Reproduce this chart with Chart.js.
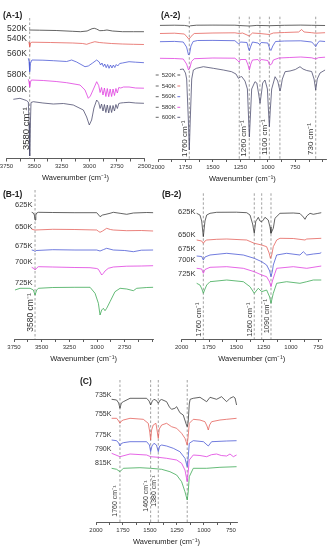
<!DOCTYPE html>
<html>
<head>
<meta charset="utf-8">
<script src="https://cdn.jsdelivr.net/npm/chart.js@4.4.1/dist/chart.umd.min.js"></script>
<style>
  html, body { margin: 0; padding: 0; background: #fff; }
  #wrap { position: relative; width: 331px; height: 550px; overflow: hidden; }
  #wrap canvas { position: absolute; left: 0; top: 0; }
</style>
</head>
<body>
<div id="wrap">
  <canvas id="a1" width="331" height="550"></canvas>
  <canvas id="a2" width="331" height="550"></canvas>
  <canvas id="b1" width="331" height="550"></canvas>
  <canvas id="b2" width="331" height="550"></canvas>
  <canvas id="c" width="331" height="550"></canvas>
</div>
<script>
// each spectrum: [wavenumber (cm-1), offset intensity (a.u.)]
const tempsA = ["520K", "540K", "560K", "580K", "600K"];
const tempsB = ["625K", "650K", "675K", "700K", "725K"];
const tempsC = ["735K", "755K", "775K", "790K", "815K"];

const rangeA1 = [2500, 3750];
const rangeA2 = [464, 2000];
const rangeB1 = [2492, 3750];
const rangeB2 = [719, 2000];
const rangeC = [694, 2000];

const ticksA1 = [3750, 3500, 3250, 3000, 2750, 2500];
const ticksA2 = [2000, 1750, 1500, 1250, 1000, 750];
const ticksB1 = [3750, 3500, 3250, 3000, 2750];
const ticksB2 = [2000, 1750, 1500, 1250, 1000, 750];
const ticksC = [2000, 1750, 1500, 1250, 1000, 750];

const peaksA1 = [3540];
const peakNamesA1 = ["3580 cm⁻¹"];
const peaksA2 = [1715, 1260, 1169, 1072, 986, 890, 564];
const peakNamesA2 = ["1760 cm⁻¹", "", "1260 cm⁻¹", "", "1100 cm⁻¹", "", "730 cm⁻¹"];
const peaksB1 = [3560];
const peakNamesB1 = ["3580 cm⁻¹"];
const peaksB2 = [1802, 1336, 1268, 1183];
const peakNamesB2 = ["1760 cm⁻¹", "1260 cm⁻¹", "", "1090 cm⁻¹"];
const peaksC = [1778, 1494, 1423, 1155];
const peakNamesC = ["1760 cm⁻¹", "1460 cm⁻¹", "1380 cm⁻¹", ""];

// (A-1)
const a1_520K = [[3545,128.5],[3450,128.3],[3300,128],[3150,127.2],[3080,126.8],[3020,127.5],[2975,129.8],[2955,130.2],[2935,129.5],[2905,127.8],[2870,128],[2840,128.5],[2790,127.5],[2700,126.8],[2600,126.8],[2505,126.8]];
const a1_540K = [[3555,116.8],[3546,115.8],[3540,111.8],[3533,115.5],[3520,116.3],[3350,116],[3150,115.5],[3060,115],[3024,114.2],[2990,115.5],[2950,116.8],[2910,116],[2870,115.6],[2800,115],[2700,114.5],[2600,114.2],[2505,114]];
const a1_560K = [[3552,100.2],[3546,97],[3540,86.8],[3534,95],[3520,98.5],[3420,98.3],[3326,97.8],[3205,97],[3160,98.5],[3115,96.5],[3039,91.8],[3009,92.5],[2970,95.5],[2933,98.5],[2910,96.5],[2898,93.5],[2885,95.5],[2872,92],[2860,94.5],[2847,90.8],[2834,94],[2821,90.2],[2808,93.5],[2795,90.5],[2782,93.5],[2769,91],[2756,94],[2743,92.5],[2725,95],[2700,95.5],[2640,96.8],[2580,96.3],[2505,95.8]];
const a1_580K = [[3552,79.2],[3546,76.5],[3540,71.8],[3534,76],[3525,78.5],[3417,78],[3300,77],[3205,75.8],[3084,73.5],[3039,68.5],[3009,60.2],[2990,62.5],[2958,70.5],[2933,76.8],[2915,73],[2902,66],[2889,71],[2876,63.5],[2863,70.5],[2850,62],[2837,70],[2824,61.8],[2811,69.5],[2798,62],[2785,69.5],[2772,63],[2759,70],[2746,65.5],[2733,71],[2715,70.5],[2690,71.5],[2640,71.5],[2580,70.5],[2505,70.3]];
const a1_600K = [[3688,59.2],[3628,60.2],[3570,58],[3552,56.5],[3546,35],[3540,2.5],[3535,30],[3528,56],[3507,56.8],[3420,55.5],[3326,54.5],[3235,55],[3145,53.5],[3054,48.5],[3024,41.5],[3000,33.5],[2979,38.5],[2958,50.5],[2933,58.5],[2915,56],[2902,50],[2889,54.5],[2876,47.5],[2863,54],[2850,46],[2837,53.5],[2824,45.5],[2811,53],[2798,46],[2785,53],[2772,47.5],[2759,54],[2746,50],[2733,55],[2715,55.5],[2690,55.8],[2640,56.2],[2580,55.5],[2505,55.2]];

// (A-2)
const a2_520K = [[1982,133.6],[1850,133.8],[1760,133.6],[1725,133],[1715,132.4],[1705,133.2],[1650,133.8],[1500,133.9],[1300,133.8],[1260,133.5],[1169,133],[1100,133.6],[986,133.3],[850,133.7],[700,133.9],[600,133.7],[479,133.5]];
const a2_540K = [[1982,125.5],[1850,125.8],[1760,125],[1735,122],[1718,119.7],[1700,122.5],[1670,125.5],[1500,126],[1300,126.2],[1260,125.5],[1230,126],[1169,123],[1140,126],[1072,125.5],[986,124.5],[950,126],[850,126.5],[720,127],[692,129.5],[670,127],[600,126.3],[564,125.8],[479,126.3]];
const a2_560K = [[1982,117.3],[1850,117.6],[1770,117],[1740,112],[1722,104],[1712,105.5],[1700,113],[1680,117.5],[1640,118.5],[1500,118.6],[1300,118.3],[1265,115],[1250,117],[1190,116.5],[1175,110],[1168,108.3],[1158,112],[1140,117],[1090,116],[1075,114.5],[1060,116.5],[1000,116],[982,110],[972,108.5],[955,113],[930,117.5],[850,118],[700,118.2],[600,117],[575,114],[564,112.3],[552,115],[530,118],[479,117.5]];
const a2_580K = [[1982,100.7],[1850,100.5],[1770,100],[1740,95],[1722,89],[1710,91],[1695,97.5],[1670,100.3],[1500,101],[1300,100.8],[1275,98.5],[1262,97],[1250,99.5],[1200,99.5],[1180,94],[1168,89],[1155,95],[1140,99],[1090,99.5],[1075,97.5],[1060,99.5],[1000,98.5],[984,93.8],[965,95],[950,99],[900,101],[800,101.5],[700,102],[600,101.2],[564,100],[540,101.3],[479,101.8]];
const a2_600K = [[1800,89.5],[1770,90],[1750,86],[1739,80],[1724,40],[1715,9],[1706,40],[1693,80],[1678,89],[1650,90.7],[1587,92.3],[1496,90.7],[1405,89],[1330,87.3],[1290,85],[1268,80.7],[1250,82],[1238,82.5],[1208,78],[1186,70],[1175,40],[1168,22],[1160,40],[1147,70],[1117,77.3],[1100,76],[1085,66],[1071,55.7],[1058,66],[1047,76],[1026,79],[1004,70],[995,50],[986,32.3],[977,50],[965,70],[934,82.3],[910,78],[898,72],[889,68],[880,72],[868,80],[843,87.3],[798,88],[750,89.5],[707,92.3],[680,90],[646,88.5],[601,87.5],[579,80],[564,69],[550,80],[525,86],[479,89]];

// (B-1)
const b1_625K = [[3590,126.7],[3575,126],[3566,124],[3560,119],[3553,124],[3545,126],[3530,126.7],[3400,126.5],[3200,126.3],[3003,126.3],[2985,124],[2973,122.3],[2950,124],[2928,124.5],[2883,125.7],[2853,126.7],[2792,125.7],[2732,124.7],[2672,126],[2551,126.5],[2492,126.3]];
const b1_650K = [[3590,109.7],[3560,109],[3400,109.7],[3200,109.5],[3003,109],[2985,107.5],[2973,106.7],[2950,108],[2913,110.7],[2880,109.5],[2853,109],[2732,108.3],[2600,108.5],[2492,108]];
const b1_675K = [[3590,89],[3570,88.5],[3560,87.3],[3550,88.5],[3400,89.3],[3200,89],[3003,89],[2973,88],[2940,89.5],[2913,90.7],[2853,89],[2750,88.5],[2672,87.3],[2600,88.8],[2492,89]];
const b1_700K = [[3590,71.7],[3570,70.5],[3560,69],[3545,71],[3530,72.3],[3400,72],[3200,71.5],[3063,71.3],[3003,70.5],[2988,69.7],[2968,66],[2958,64],[2943,65.7],[2928,68],[2898,70.7],[2853,72],[2732,72.8],[2600,73],[2492,73.3]];
const b1_725K = [[3741,49],[3696,50.7],[3605,50.7],[3575,49],[3560,44],[3545,49],[3530,50.7],[3400,51.5],[3200,51.7],[3063,51.7],[3018,45.7],[2988,35.7],[2973,24],[2958,29],[2943,30.7],[2928,28.3],[2913,30.7],[2883,37.3],[2838,47.3],[2792,50.7],[2732,50],[2672,48.3],[2642,50.7],[2551,51.5],[2492,51.7]];

// (B-2)
const b2_625K = [[1863,125.7],[1833,124],[1817,118],[1802,102.3],[1787,118],[1771,124],[1741,125.7],[1680,126.7],[1500,126.8],[1405,126.3],[1375,124],[1351,115],[1336,105.7],[1322,118],[1314,119],[1299,121.7],[1284,118],[1268,117.3],[1253,119],[1238,121.7],[1208,119],[1192,112],[1183,105.7],[1162,110.7],[1147,120.7],[1101,125.7],[979,126],[918,125.5],[887,122],[872,119.7],[856,123],[826,125.7],[796,124.7],[760,125.5],[722,126.3]];
const b2_650K = [[1863,99],[1817,98],[1802,95.7],[1787,98],[1771,99],[1680,99.7],[1588,100],[1405,99],[1336,95.7],[1268,94],[1223,92.3],[1200,86],[1188,80.7],[1176,84],[1162,92.3],[1131,99],[1101,100.7],[979,100.5],[872,99],[856,100],[722,100.7]];
const b2_675K = [[1863,83],[1817,82.5],[1802,79],[1787,82],[1741,84],[1588,85.7],[1436,84],[1336,80.7],[1268,77.3],[1223,74],[1195,68],[1183,62.3],[1170,68],[1162,74],[1131,84],[1040,85.7],[918,84],[887,87.3],[856,84],[796,85],[735,85.7],[722,86.5]];
const b2_700K = [[1863,70.7],[1817,70],[1802,65.7],[1787,69.5],[1741,71.7],[1588,72.3],[1436,70.7],[1336,67.3],[1268,64],[1223,62.3],[1195,57],[1183,52.3],[1170,58],[1147,65.7],[1131,70.7],[979,72.3],[856,70.7],[722,73]];
const b2_725K = [[1863,55.7],[1833,54],[1815,50],[1802,45.7],[1787,50],[1771,54],[1741,57.3],[1588,59],[1436,57.3],[1375,52.3],[1336,45.7],[1299,50.7],[1268,47.3],[1223,49],[1195,42],[1183,35.7],[1170,42],[1162,45.7],[1131,55.7],[1040,57.3],[918,55.7],[856,57.3],[796,59],[722,59]];

// (C)
const c_735K = [[1855,122.7],[1809,122],[1790,119],[1778,113.7],[1765,119],[1747,120.3],[1685,123.7],[1531,123.7],[1508,121],[1494,117],[1478,121],[1463,122.7],[1440,121.5],[1423,118.7],[1405,122],[1392,122.5],[1346,120.3],[1320,115],[1300,112.7],[1269,113.7],[1253,115.3],[1223,109.3],[1192,107],[1165,98],[1155,95.3],[1146,100],[1136,118],[1128,122.7],[1099,123.7],[1037,124.7],[975,120.3],[944,124.7],[883,122.7],[837,125.3],[790,120.3],[759,123.7],[728,125.3],[712,124],[698,117]];
const c_755K = [[1855,103.7],[1809,103.7],[1790,101],[1778,98.7],[1765,101],[1747,102],[1685,103.7],[1562,102.7],[1516,98.7],[1502,90],[1494,82],[1485,92],[1470,97],[1445,98.7],[1432,90],[1423,83.7],[1414,93],[1392,97],[1346,98.7],[1300,95.3],[1253,93.7],[1207,88.7],[1176,83.7],[1155,77],[1146,86],[1136,98.7],[1099,102.7],[1037,102],[991,100.3],[972,96],[960,92],[948,97],[929,100.3],[852,102],[790,102.7],[698,103.7]];
const c_775K = [[1855,82],[1809,81.3],[1790,79],[1778,76],[1765,78.5],[1747,79.3],[1685,80.3],[1531,80.3],[1505,77],[1494,70.3],[1482,76],[1463,78.7],[1440,77],[1423,70.3],[1410,76],[1392,77],[1346,76],[1284,73.7],[1223,70.3],[1176,63.7],[1155,55.3],[1146,64],[1136,78.7],[1099,81.3],[1005,80.3],[960,76],[929,80.3],[790,81],[698,81.3]];
const c_790K = [[1855,68.7],[1778,65.3],[1685,68],[1531,67],[1494,65.3],[1423,64.7],[1346,63.7],[1253,62],[1207,58.7],[1176,52],[1155,40.3],[1146,50],[1136,62],[1099,67],[1037,66.5],[975,65.3],[930,67.3],[883,68],[840,66.5],[790,66],[759,68],[728,65.3],[698,67]];
const c_815K = [[1855,53.7],[1809,52.7],[1778,50.3],[1747,53.7],[1593,54.3],[1494,53.7],[1392,52.7],[1315,50.3],[1253,47],[1207,40.3],[1176,30.3],[1155,22],[1146,30],[1136,45.3],[1099,53.7],[975,53.7],[852,54.7],[698,55.3]];

const FONT = '"Liberation Sans", Arial, Helvetica, sans-serif';
const colorsA = ["#3c3c3c", "#e4625c", "#4d5ad6", "#df3fdf", "#4f4f70"];
const colorsB = ["#3c3c3c", "#e4625c", "#4d5ad6", "#df3fdf", "#3daa55"];

function decor(cfg) {
  return {
    id: "decor",
    beforeDatasetsDraw(chart) {
      const { ctx, chartArea: a, scales: { x } } = chart;
      ctx.save();
      ctx.strokeStyle = "#8a8a8a";
      ctx.lineWidth = 0.8;
      ctx.setLineDash([2.5, 2]);
      cfg.peaks.forEach(v => {
        const px = x.getPixelForValue(v);
        ctx.beginPath();
        ctx.moveTo(px, a.top);
        ctx.lineTo(px, a.bottom);
        ctx.stroke();
      });
      ctx.restore();
    },
    afterDraw(chart) {
      const { ctx, scales: { x } } = chart;
      ctx.save();
      ctx.fillStyle = "#222";
      ctx.textBaseline = "middle";
      ctx.font = "bold 8.5px " + FONT;
      ctx.fillText(cfg.title, cfg.titleAt[0], cfg.titleAt[1]);

      if (cfg.labelY) {
        ctx.font = cfg.labelFont + "px " + FONT;
        ctx.fillStyle = "#333";
        cfg.names.forEach((n, i) => ctx.fillText(n, cfg.labelX, cfg.labelY[i]));
      }

      if (cfg.legendY) {
        ctx.font = "6px " + FONT;
        ctx.lineWidth = 0.9;
        cfg.names.forEach((n, i) => {
          const y = cfg.legendY[i];
          ctx.fillStyle = "#333";
          ctx.fillText(n, cfg.legendX, y);
          const w = ctx.measureText(n).width;
          ctx.strokeStyle = "#555";
          ctx.beginPath(); ctx.moveTo(cfg.legendX - 6, y); ctx.lineTo(cfg.legendX - 3, y); ctx.stroke();
          ctx.strokeStyle = cfg.colors[i];
          ctx.beginPath(); ctx.moveTo(cfg.legendX + w + 1.7, y); ctx.lineTo(cfg.legendX + w + 4.5, y); ctx.stroke();
        });
      }

      ctx.font = cfg.peakFont + "px " + FONT;
      ctx.fillStyle = "#333";
      cfg.peakNames.forEach((t, i) => {
        if (!t) return;
        const px = x.getPixelForValue(cfg.peaks[i]) - cfg.peakGap;
        ctx.save();
        ctx.translate(px, cfg.peakBottom[i]);
        ctx.rotate(-Math.PI / 2);
        ctx.textAlign = "left";
        ctx.textBaseline = "middle";
        ctx.fillText(t, 0, 0);
        ctx.restore();
      });
      ctx.restore();
    }
  };
}

function makePanel(id, cfg) {
  new Chart(document.getElementById(id), {
    type: "line",
    data: {
      datasets: cfg.series.map((s, i) => ({
        label: cfg.names[i],
        data: s.map(p => ({ x: p[0], y: p[1] })),
        borderColor: cfg.colors[i],
        borderWidth: 0.8,
        pointRadius: 0,
        tension: 0,
        fill: false
      }))
    },
    options: {
      responsive: false,
      animation: false,
      events: [],
      layout: { padding: cfg.pad },
      plugins: { legend: { display: false }, tooltip: { enabled: false } },
      scales: {
        x: {
          type: "linear",
          reverse: true,
          min: cfg.range[0],
          max: cfg.range[1],
          afterFit: s => { s.height = 24; },
          // major ticks every 250, minor ticks half way between
          afterBuildTicks: axis => {
            const t = [];
            for (let v = Math.ceil(cfg.range[0] / 125) * 125; v <= cfg.range[1]; v += 125) t.push({ value: v });
            axis.ticks = t;
          },
          border: { display: true, color: "#333", width: 0.8 },
          grid: { drawOnChartArea: false, drawTicks: true, tickLength: 3, color: "#333", lineWidth: 0.8 },
          ticks: {
            autoSkip: false,
            maxRotation: 0,
            padding: 1.5,
            color: "#333",
            font: { size: 6, family: FONT },
            callback: v => {
              const r = Math.round(v);
              return cfg.ticks.includes(r) ? String(r) : "";
            }
          },
          title: {
            display: true,
            text: "Wavenumber (cm⁻¹)",
            color: "#222",
            font: { size: 7.5, family: FONT },
            padding: { top: 0, bottom: 0 }
          }
        },
        y: { display: false, min: 0, max: cfg.ymax }
      }
    },
    plugins: [decor(cfg)]
  });
}

makePanel("a1", {
  series: [a1_520K, a1_540K, a1_560K, a1_580K, a1_600K], names: tempsA, colors: colorsA,
  range: rangeA1, ticks: ticksA1, peaks: peaksA1, peakNames: peakNamesA1,
  pad: { left: 6.5, right: 186.5, top: 18, bottom: 367.5 }, ymax: 140.5,
  title: "(A-1)", titleAt: [3, 16],
  labelX: 7, labelY: [28.3, 38.3, 53.3, 75, 89.3], labelFont: 8.5,
  peakFont: 9.5, peakGap: 3.8, peakBottom: [150]
});

makePanel("a2", {
  series: [a2_520K, a2_540K, a2_560K, a2_580K, a2_600K], names: tempsA, colors: colorsA,
  range: rangeA2, ticks: ticksA2, peaks: peaksA2, peakNames: peakNamesA2,
  pad: { left: 158, right: 4.3, top: 16.7, bottom: 367 }, ymax: 142.3,
  title: "(A-2)", titleAt: [161, 15.5],
  legendX: 161.7, legendY: [75, 86, 96.7, 107.3, 117.3],
  peakFont: 8, peakGap: 5, peakBottom: [157, 0, 156.7, 0, 155, 0, 155]
});

makePanel("b1", {
  series: [b1_625K, b1_650K, b1_675K, b1_700K, b1_725K], names: tempsB, colors: colorsB,
  range: rangeB1, ticks: ticksB1, peaks: peaksB1, peakNames: peakNamesB1,
  pad: { left: 14, right: 177.7, top: 190, bottom: 187 }, ymax: 149,
  title: "(B-1)", titleAt: [3, 195],
  labelX: 15, labelY: [205, 226.7, 245.7, 261.7, 283.3], labelFont: 7.5,
  peakFont: 8.5, peakGap: 4.5, peakBottom: [331.7]
});

makePanel("b2", {
  series: [b2_625K, b2_650K, b2_675K, b2_700K, b2_725K], names: tempsB, colors: colorsB,
  range: rangeB2, ticks: ticksB2, peaks: peaksB2, peakNames: peakNamesB2,
  pad: { left: 181.7, right: 9.3, top: 193.3, bottom: 187 }, ymax: 145.7,
  title: "(B-2)", titleAt: [162, 195],
  labelX: 178, labelY: [211.7, 235, 249.3, 260, 274.3], labelFont: 7.5,
  peakFont: 7.5, peakGap: 4, peakBottom: [336.7, 336.7, 0, 333.3]
});

makePanel("c", {
  series: [c_735K, c_755K, c_775K, c_790K, c_815K], names: tempsC, colors: colorsB,
  range: rangeC, ticks: ticksC, peaks: peaksC, peakNames: peakNamesC,
  pad: { left: 96, right: 94, top: 380, bottom: 4 }, ymax: 142,
  title: "(C)", titleAt: [80, 381.7],
  labelX: 95, labelY: [395, 414, 435, 449.3, 462.7], labelFont: 7,
  peakFont: 7, peakGap: 4.5, peakBottom: [516.7, 511.7, 506.7, 0]
});
</script>
</body>
</html>
